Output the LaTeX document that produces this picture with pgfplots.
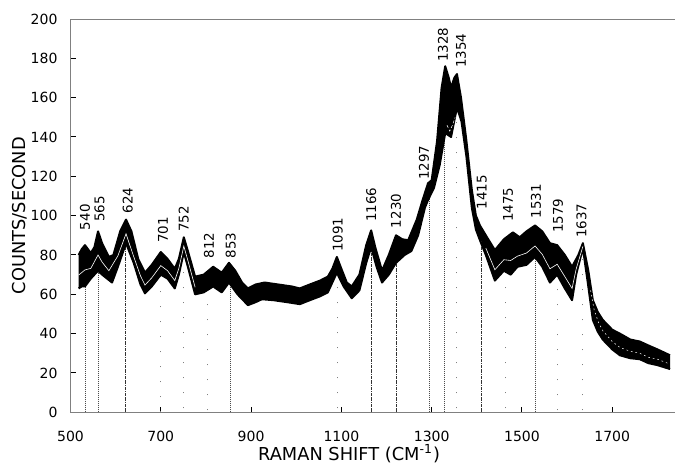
\documentclass[border=0pt]{standalone}
\usepackage{fontspec}
\setmainfont{DejaVu Sans}
\usepackage{pgfplots}
\pgfplotsset{compat=1.18}
\usepgfplotslibrary{fillbetween}

\newcommand\tickfont{\fontsize{7}{8}\selectfont}
\newcommand\peakfont{\fontsize{6.7}{7}\selectfont}
\newcommand\labfont{\fontsize{8.9}{10}\selectfont}

\begin{document}
\begin{tikzpicture}
\begin{axis}[
  scale only axis, width=302.25pt, height=196.65pt,
  xmin=500, xmax=1839, ymin=0, ymax=200,
  axis x line*=bottom, axis y line*=left,
  axis line style={gray},
  xtick={500,700,...,1700}, ytick={0,20,...,200},
  tick align=inside, major tick length=2.5pt,
  major tick style={black, line width=0.5pt},
  ticklabel style={font=\tickfont},
  /pgf/number format/assume math mode=true,
  /pgf/number format/set thousands separator={},
  x tick label style={yshift=-6pt},
  y tick label style={xshift=-3pt},
  clip=false,
  dense/.style={gray!60!black, line width=0.35pt, dash pattern=on 0.5pt off 0.5pt, forget plot},
  dashdot/.style={black!80, line width=0.35pt, dash pattern=on 1.5pt off 0.5pt on 0.3pt off 0.5pt, forget plot},
  sparse/.style={gray, line width=0.45pt, dash pattern=on 0.5pt off 7pt, forget plot},
  edge/.style={black, line width=1pt, line join=round},
]
% frame line at the top
\addplot[gray, forget plot] coordinates {(500,200) (1839,200)};

% peak markers
\addplot[dense]   coordinates {(534,0) (534,64)};
\addplot[dense]   coordinates {(562,0) (562,72)};
\addplot[dashdot] coordinates {(621,0) (621,86)};
\addplot[sparse]  coordinates {(700,0) (700,70)};
\addplot[sparse]  coordinates {(751,2) (751,80)};
\addplot[sparse]  coordinates {(804,1) (804,62)};
\addplot[dense]   coordinates {(855,0) (855,65)};
\addplot[sparse]  coordinates {(1092,2) (1092,72)};
\addplot[dashdot] coordinates {(1167,0) (1167,84)};
\addplot[dashdot] coordinates {(1221,0) (1221,76)};
\addplot[dense]   coordinates {(1294,0) (1294,109)};
\addplot[dense]   coordinates {(1327,0) (1327,140)};
\addplot[sparse]  coordinates {(1356,2) (1356,155)};
\addplot[dashdot] coordinates {(1409,0) (1409,87)};
\addplot[sparse]  coordinates {(1464,2) (1464,72)};
\addplot[dense]   coordinates {(1529,0) (1529,79)};
\addplot[sparse]  coordinates {(1578,1) (1578,70)};
\addplot[sparse]  coordinates {(1633,1) (1633,82)};

% envelope of the spectra
\addplot[name path=up, edge] coordinates {
(518,80) (525,83) (532,85) (545,81) (553,84) (561,92) (570,86) (585,79)
(595,80) (610,92) (623,98) (635,92) (650,78) (665,71) (680,75) (700,81.5)
(715,78) (731,73) (740,78) (751,89) (760,82) (776,69) (795,70) (816,74)
(835,71) (851,76) (865,72) (880,66) (893,63) (910,65) (930,66) (960,65)
(990,64) (1008,63) (1030,65) (1053,67) (1070,69) (1080,73) (1090,79)
(1100,73) (1112,66) (1123,64) (1140,70) (1155,85) (1166,92.5) (1175,84)
(1190,72) (1205,80) (1221,90) (1235,88) (1248,87.5) (1267,98) (1280,108)
(1292,116.5) (1300,118) (1312,138) (1322,165) (1330,176) (1338,170)
(1343,165) (1350,170) (1356,172) (1365,160) (1377,138) (1389,113)
(1398,100) (1407,95) (1420,90) (1440,82.5) (1460,88) (1480,91.5)
(1495,89) (1510,92) (1529,95) (1545,92) (1562,86) (1578,85) (1595,80)
(1611,74) (1625,80) (1635,86) (1647,72) (1657,57) (1668,51) (1679,47)
(1700,42) (1717,40) (1740,37) (1761,36) (1780,34) (1800,32) (1828,29)};
\addplot[name path=lo, edge] coordinates {
(518,63) (525,64) (532,64) (545,68) (561,72) (570,70) (592,66) (605,74)
(623,86) (640,76) (655,65) (665,60.5) (680,64) (700,70) (715,68) (731,63)
(740,70) (751,81.5) (760,74) (776,60) (795,61) (816,64) (835,61) (851,66)
(870,60) (893,54.5) (910,56) (924,57.5) (950,57) (980,56) (1008,55)
(1030,57) (1053,59) (1070,61) (1090,71) (1105,64) (1123,58) (1140,62)
(1155,76) (1166,84) (1178,74) (1190,66) (1205,70) (1221,76) (1240,80)
(1255,82) (1270,90) (1285,104) (1292,108) (1305,114) (1318,126)
(1330,142) (1343,140) (1356,155) (1366,148) (1377,130) (1389,104)
(1398,93) (1407,87.5) (1420,80) (1440,67) (1460,72) (1475,70) (1490,74)
(1510,75) (1529,79) (1545,74) (1562,66) (1578,70) (1595,63) (1611,57)
(1620,70) (1635,83.5) (1647,64) (1657,47) (1668,41) (1679,37)
(1700,32) (1717,29) (1740,27.5) (1761,27) (1780,25) (1800,24) (1828,22)};
\addplot[black] fill between[of=up and lo];

% gaps between single spectra
\addplot[white, line width=0.3pt] coordinates {
(518,69.8) (532,72.4) (545,73.2) (561,80) (570,76.4) (585,72) (605,79.6)
(623,90.8) (640,79.2) (655,69.4) (665,64.7) (680,68.4) (700,74.6) (715,72)
(731,67) (740,73.2) (751,84.5) (760,77.2) (776,63.6)};
\addplot[white, line width=0.3pt] coordinates {
(1420,83.5) (1440,72.5) (1460,77.6) (1475,77.2) (1490,79.4) (1510,81)
(1529,84.6) (1545,80.3) (1562,73) (1578,75.3) (1595,69) (1611,63)
(1620,72.8) (1635,84.4)};
\addplot[white, line width=0.25pt, dash pattern=on 0.8pt off 1.5pt] coordinates {
(1652,62) (1660,52) (1670,45.5) (1679,41.5) (1700,36) (1717,33)
(1740,31) (1761,30) (1780,28) (1800,27) (1828,24.5)};
\addplot[white, line width=0.25pt, dash pattern=on 1.5pt off 1pt] coordinates {
(1334,146) (1340,143) (1346,146) (1352,150)};

% peak labels
\begin{scope}[every node/.style={rotate=90, anchor=west, inner sep=0pt, font=\peakfont}]
\node at (axis cs:532,92.5) {540};
\node at (axis cs:564,96.7) {565};
\node at (axis cs:627,101) {624};
\node at (axis cs:705,86) {701};
\node at (axis cs:751,91.5) {752};
\node at (axis cs:807,78) {812};
\node at (axis cs:855,78) {853};
\node at (axis cs:1092,81.5) {1091};
\node at (axis cs:1166,96.6) {1166};
\node at (axis cs:1221,93.5) {1230};
\node at (axis cs:1283,118) {1297};
\node at (axis cs:1325,178) {1328};
\node at (axis cs:1365,175) {1354};
\node at (axis cs:1411,103) {1415};
\node at (axis cs:1469,96.7) {1475};
\node at (axis cs:1531,98.5) {1531};
\node at (axis cs:1580,91) {1579};
\node at (axis cs:1632,88.5) {1637};
\end{scope}

% axis titles
\node[rotate=90, font=\labfont] at (axis cs:388,100) {COUNTS/SECOND};
\node[anchor=base, font=\labfont] at (axis cs:1117,-24.7) {RAMAN SHIFT (CM\textsuperscript{-1})};
\end{axis}
\pgfresetboundingbox
\useasboundingbox ([xshift=-35.25pt,yshift=-25.35pt]current axis.south west)
  rectangle ([xshift=302.25pt,yshift=206.15pt]current axis.south west);
\end{tikzpicture}
\end{document}
